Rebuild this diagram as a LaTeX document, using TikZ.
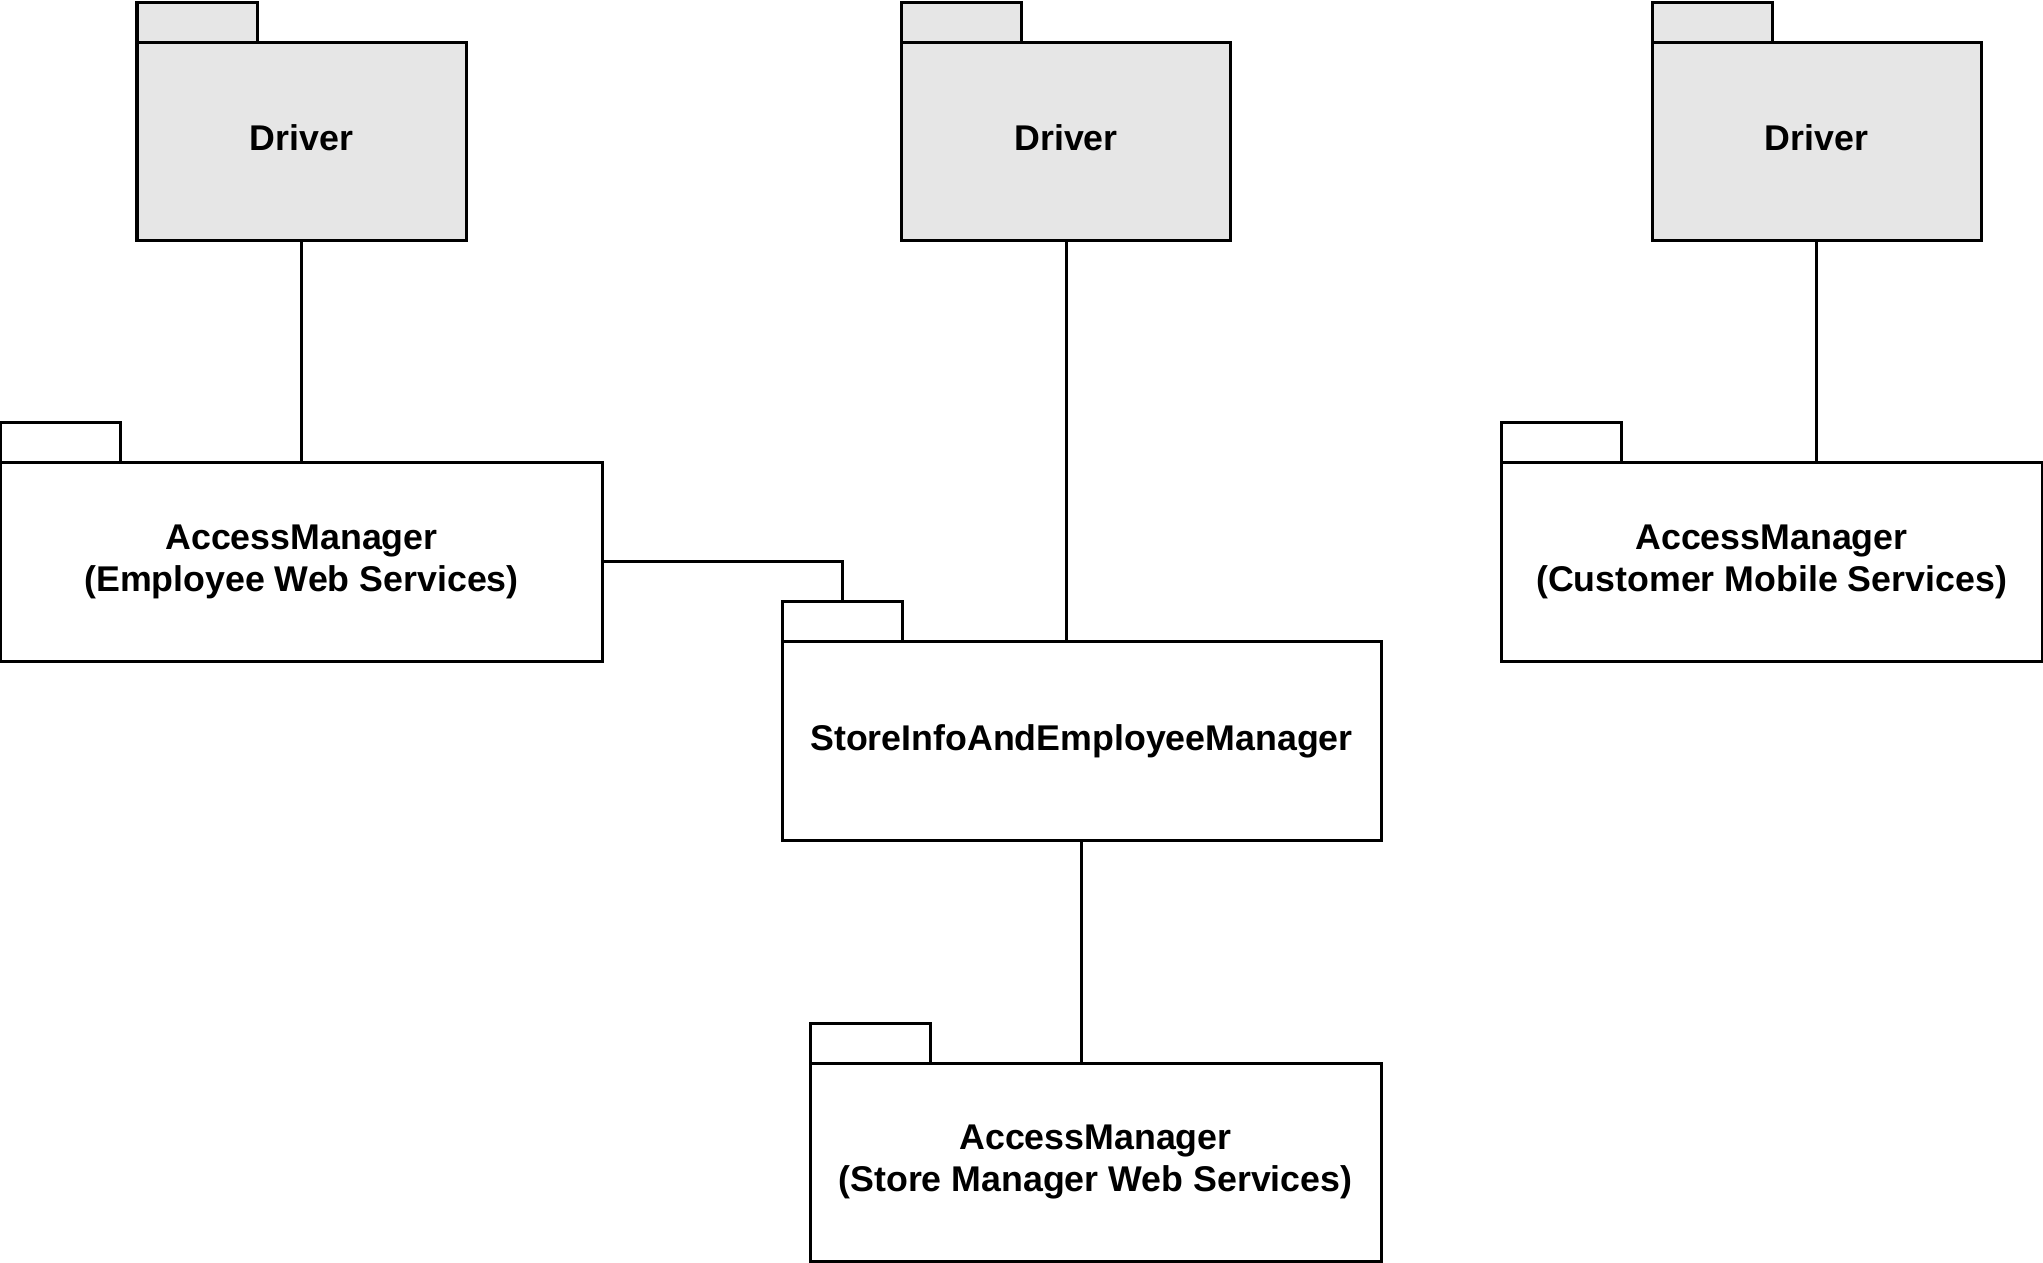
\documentclass[tikz,border=0pt]{standalone}
\usepackage{fontspec}
\setmainfont{Liberation Sans}
\usepackage{xcolor}
\usepackage{tikz}
\usetikzlibrary{positioning}
\definecolor{drivergray}{RGB}{230,230,230}
\definecolor{linecolor}{RGB}{0,0,0}

\begin{document}
\begin{tikzpicture}[
    x=0.4pt, y=-0.4pt,
    pkg/.style={draw=linecolor, line width=1.2pt, fill=white, minimum height=79.2pt, inner sep=0pt,
        outer sep=0pt, font=\fontsize{14.3}{16.7}\selectfont\bfseries, align=center},
    pkgtab/.style={draw=linecolor, line width=1.2pt, fill=white, minimum width=48pt, minimum height=16pt,
        inner sep=0pt, outer sep=0pt, anchor=south west},
    driver/.style={pkg, fill=drivergray, minimum width=131.6pt, text depth=3.2pt},
    link/.style={draw=linecolor, line width=1.2pt}
]
    \useasboundingbox (0,0) rectangle (2043,1263);

    % Drivers
    \node[driver] (drv1) at (301.5,142) {Driver};
    \node[driver] (drv2) at (1066,142) {Driver};
    \node[driver] (drv3) at (1816.5,142) {Driver};
    \node[pkgtab, fill=drivergray] (drv1tab) at (drv1.north west) {};
    \node[pkgtab, fill=drivergray] (drv2tab) at (drv2.north west) {};
    \node[pkgtab, fill=drivergray] (drv3tab) at (drv3.north west) {};

    % Packages
    \node[pkg, minimum width=240.4pt] (empam) at (301.5,562) {AccessManager\\(Employee Web Services)};
    \node[pkg, minimum width=239.6pt] (store) at (1081.5,741) {StoreInfoAndEmployeeManager};
    \node[pkg, minimum width=216.4pt] (custam) at (1771.5,562) {AccessManager\\(Customer Mobile Services)};
    \node[pkg, minimum width=228.4pt] (mgram) at (1095.5,1162) {AccessManager\\(Store Manager Web Services)};
    \node[pkgtab] (empamtab) at (empam.north west) {};
    \node[pkgtab] (storetab) at (store.north west) {};
    \node[pkgtab] (custamtab) at (custam.north west) {};
    \node[pkgtab] (mgramtab) at (mgram.north west) {};

    % Links
    \draw[link] (drv1.south) -- (empam.north);
    \draw[link] (drv2.south) -- (drv2.south |- store.north);
    \draw[link] (drv3.south) -- (drv3.south |- custam.north);
    \draw[link] (empam.east) -| (storetab.north);
    \draw[link] (store.south) -- (store.south |- mgram.north);
\end{tikzpicture}
\end{document}
